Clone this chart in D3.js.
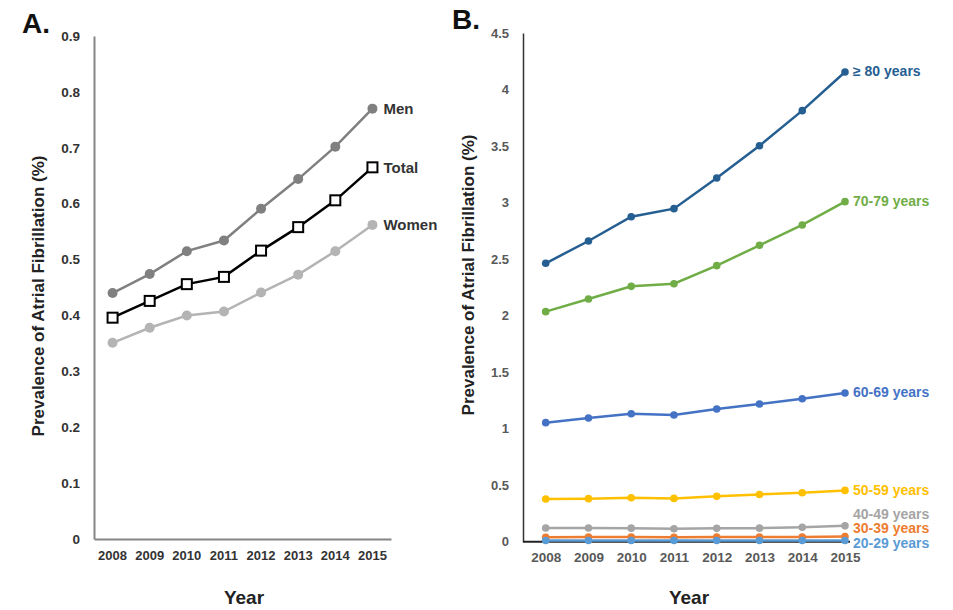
<html>
<head>
<script src="https://d3js.org/d3.v7.min.js"></script>
<style>
body { margin: 0; padding: 0; background: #fff; font-family: "Liberation Sans", Arial, sans-serif; }
svg { display: block; }
.tick text { font-weight: bold; font-size: 13px; }
</style>
</head>
<body>
<script>
var years = ["2008", "2009", "2010", "2011", "2012", "2013", "2014", "2015"];

// Panel A: prevalence by sex (%)
var sexNames = ["Men", "Total", "Women"];
var menVals = [0.440, 0.474, 0.515, 0.534, 0.591, 0.644, 0.702, 0.770];
var totalVals = [0.396, 0.426, 0.456, 0.469, 0.516, 0.558, 0.606, 0.665];
var womenVals = [0.351, 0.378, 0.400, 0.407, 0.441, 0.473, 0.515, 0.562];
var ticksA = [0, 0.1, 0.2, 0.3, 0.4, 0.5, 0.6, 0.7, 0.8, 0.9];

// Panel B: prevalence by age group (%)
var ageNames = ["\u2265 80 years", "70-79 years", "60-69 years", "50-59 years", "40-49 years", "30-39 years", "20-29 years"];
var age80 = [2.463, 2.660, 2.875, 2.946, 3.217, 3.503, 3.813, 4.155];
var age70 = [2.035, 2.147, 2.259, 2.282, 2.442, 2.622, 2.802, 3.008];
var age60 = [1.053, 1.094, 1.132, 1.121, 1.174, 1.218, 1.265, 1.315];
var age50 = [0.378, 0.381, 0.389, 0.383, 0.401, 0.418, 0.433, 0.454];
var age40 = [0.121, 0.121, 0.120, 0.115, 0.118, 0.120, 0.128, 0.140];
var age30 = [0.040, 0.041, 0.041, 0.040, 0.041, 0.041, 0.042, 0.046];
var age20 = [0.010, 0.010, 0.010, 0.010, 0.010, 0.010, 0.010, 0.011];
var ticksB = [0, 0.5, 1, 1.5, 2, 2.5, 3, 3.5, 4, 4.5];

var svg = d3.select("body").append("svg")
    .attr("width", 953)
    .attr("height", 610);

// ---------- Panel A ----------
var xA = d3.scaleBand().domain(years).range([94, 391]);
var yA = d3.scaleLinear().domain([0, 0.9]).range([539, 36]);

var gA = svg.append("g");

var yAxisA = gA.append("g")
    .attr("transform", "translate(94,0)")
    .call(d3.axisLeft(yA).tickValues(ticksA).tickSize(0).tickPadding(14)
        .tickFormat(function (d) { return d === 0 ? "0" : d3.format(".1f")(d); }));
yAxisA.select(".domain").attr("stroke", "#858585").attr("stroke-width", 2);
yAxisA.selectAll("text").attr("fill", "#333").style("font-size", "13.5px");

var xAxisA = gA.append("g")
    .attr("transform", "translate(0,539)")
    .call(d3.axisBottom(xA).tickSize(0).tickPadding(12));
xAxisA.select(".domain").attr("stroke", "#858585").attr("stroke-width", 2);
xAxisA.selectAll("text").attr("fill", "#333").style("font-size", "13px");

var seriesA = [
    { name: sexNames[0], vals: menVals, color: "#808080", marker: "circle" },
    { name: sexNames[2], vals: womenVals, color: "#b4b4b4", marker: "circle" },
    { name: sexNames[1], vals: totalVals, color: "#000", marker: "square" }
];

var lineA = d3.line()
    .x(function (d, i) { return xA(years[i]) + xA.bandwidth() / 2; })
    .y(function (d) { return yA(d); });

seriesA.forEach(function (s) {
    gA.append("path")
        .attr("d", lineA(s.vals))
        .attr("fill", "none")
        .attr("stroke", s.color)
        .attr("stroke-width", 2.5);
    s.vals.forEach(function (v, i) {
        var cx = xA(years[i]) + xA.bandwidth() / 2;
        if (s.marker === "circle") {
            gA.append("circle")
                .attr("cx", cx).attr("cy", yA(v)).attr("r", 5)
                .attr("fill", s.color);
        } else {
            gA.append("rect")
                .attr("x", cx - 5).attr("y", yA(v) - 5)
                .attr("width", 10).attr("height", 10)
                .attr("fill", "#fff").attr("stroke", "#000").attr("stroke-width", 2);
        }
    });
    gA.append("text")
        .attr("x", xA(years[7]) + xA.bandwidth() / 2 + 11)
        .attr("y", yA(s.vals[7]))
        .attr("dy", "0.35em")
        .attr("fill", "#333")
        .style("font-weight", "bold")
        .style("font-size", "15px")
        .text(s.name);
});

gA.append("text")
    .attr("x", 22).attr("y", 33)
    .style("font-size", "28px").style("font-weight", "bold")
    .attr("fill", "#111")
    .text("A.");

gA.append("text")
    .attr("transform", "translate(44,296) rotate(-90)")
    .attr("text-anchor", "middle")
    .style("font-size", "17px").style("font-weight", "bold")
    .attr("fill", "#222")
    .text("Prevalence of Atrial Fibrillation (%)");

gA.append("text")
    .attr("x", 244).attr("y", 604)
    .attr("text-anchor", "middle")
    .style("font-size", "19px").style("font-weight", "bold")
    .attr("fill", "#222")
    .text("Year");

// ---------- Panel B ----------
var xB = d3.scalePoint().domain(years).range([545.7, 845]);
var yB = d3.scaleLinear().domain([0, 4.5]).range([541.7, 33]);

var gB = svg.append("g");

var yAxisB = gB.append("g")
    .attr("transform", "translate(523,0)")
    .call(d3.axisLeft(yB).tickValues(ticksB).tickSize(0).tickPadding(14)
        .tickFormat(function (d) { return String(d); }));
yAxisB.select(".domain").attr("stroke", "#333").attr("stroke-width", 1.5);
yAxisB.selectAll("text").attr("fill", "#595959").style("font-size", "13px");

var xAxisB = gB.append("g")
    .attr("transform", "translate(0,541.7)")
    .call(d3.axisBottom(xB).tickSize(0).tickPadding(11));
xAxisB.select(".domain").remove();
xAxisB.selectAll("text").attr("fill", "#595959").style("font-size", "13.5px");
gB.append("line")
    .attr("x1", 523).attr("x2", 850)
    .attr("y1", 541.7).attr("y2", 541.7)
    .attr("stroke", "#222").attr("stroke-width", 2);

var seriesB = [
    { name: ageNames[6], vals: age20, color: "#5b9bd5" },
    { name: ageNames[5], vals: age30, color: "#ed7d31" },
    { name: ageNames[4], vals: age40, color: "#a5a5a5" },
    { name: ageNames[3], vals: age50, color: "#ffc000" },
    { name: ageNames[2], vals: age60, color: "#4472c4" },
    { name: ageNames[1], vals: age70, color: "#70ad47" },
    { name: ageNames[0], vals: age80, color: "#255e91" }
];

var lineB = d3.line()
    .x(function (d, i) { return xB(years[i]); })
    .y(function (d) { return yB(d); });

// draw bottom series last so the thin ones stay visible on top
seriesB.slice().reverse().forEach(function (s) {
    gB.append("path")
        .attr("d", lineB(s.vals))
        .attr("fill", "none")
        .attr("stroke", s.color)
        .attr("stroke-width", 2.5);
    gB.selectAll(null).data(s.vals).enter().append("circle")
        .attr("cx", function (d, i) { return xB(years[i]); })
        .attr("cy", function (d) { return yB(d); })
        .attr("r", 3.8)
        .attr("fill", s.color);
});

// end labels, pushed apart from the bottom up
var prevY = null;
seriesB.forEach(function (s) {
    var ly = yB(s.vals[7]);
    if (prevY === null) ly = ly + 3;
    else ly = Math.min(ly, prevY - 14.5);
    prevY = ly;
    gB.append("text")
        .attr("x", 853)
        .attr("y", ly)
        .attr("dy", "0.3em")
        .attr("fill", s.color)
        .style("font-weight", "bold")
        .style("font-size", "14px")
        .text(s.name);
});

gB.append("text")
    .attr("x", 452).attr("y", 29)
    .style("font-size", "28px").style("font-weight", "bold")
    .attr("fill", "#111")
    .text("B.");

gB.append("text")
    .attr("transform", "translate(474,275) rotate(-90)")
    .attr("text-anchor", "middle")
    .style("font-size", "17px").style("font-weight", "bold")
    .attr("fill", "#222")
    .text("Prevalence of Atrial Fibrillation (%)");

gB.append("text")
    .attr("x", 689).attr("y", 604)
    .attr("text-anchor", "middle")
    .style("font-size", "19px").style("font-weight", "bold")
    .attr("fill", "#222")
    .text("Year");
</script>
</body>
</html>
